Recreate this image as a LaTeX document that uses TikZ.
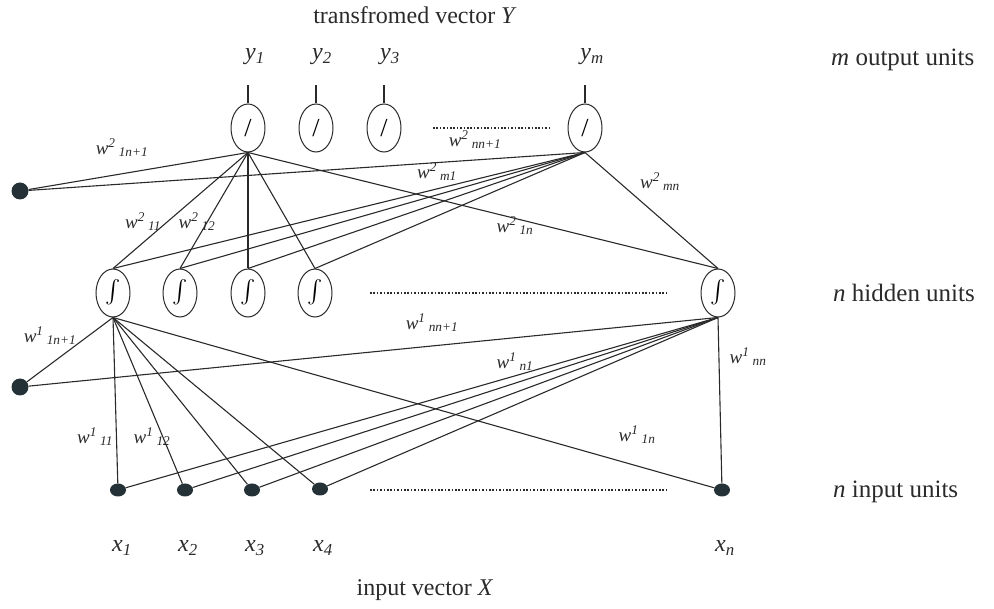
\documentclass[tikz,border=0pt]{standalone}
\usepackage{fontspec}
\setmainfont{Liberation Serif}
\usetikzlibrary{shapes.geometric}
\newcommand\wlab[2]{{\itshape w\textsuperscript{#1}\,\textsubscript{#2}}}
\newcommand\vlab[2]{{\itshape #1\textsubscript{#2}}}
\newcommand\sigm{\resizebox{!}{27pt}{$\int$}}
\definecolor{dotc}{HTML}{243238}
\definecolor{inkc}{HTML}{2A2A2A}
\begin{document}
\begin{tikzpicture}[x=1pt,y=-1pt,
  unit/.style={draw=inkc, ellipse, line width=1pt, minimum width=34pt, minimum height=48pt, inner sep=0pt, font=\fontsize{26}{28}\selectfont},
  indot/.style={ellipse, fill=dotc, minimum width=16pt, minimum height=13pt, inner sep=0pt},
  biasdot/.style={circle, fill=dotc, minimum size=17pt, inner sep=0pt},
  conn/.style={draw=inkc, line width=1.1pt},
  wl/.style={font=\fontsize{19}{21}\selectfont, inner sep=0pt, text=inkc},
  big/.style={font=\fontsize{24}{28}\selectfont, inner sep=0pt, text=inkc},
  dotline/.style={draw=inkc, line width=1.8pt, dash pattern=on 1.6pt off 1.8pt}]
\useasboundingbox (0,0) rectangle (994,609);

% output units
\node[unit] (o1) at (248,128) {/};
\node[unit] (o2) at (316,128) {/};
\node[unit] (o3) at (384,128) {/};
\node[unit] (om) at (585,128) {/};
% hidden units
\node[unit] (h1) at (113,293) {\sigm};
\node[unit] (h2) at (180,293) {\sigm};
\node[unit] (h3) at (248,293) {\sigm};
\node[unit] (h4) at (315,293) {\sigm};
\node[unit] (hn) at (718,293) {\sigm};
% input units
\node[indot] (x1) at (118,490) {};
\node[indot] (x2) at (185,490) {};
\node[indot] (x3) at (252,490) {};
\node[indot] (x4) at (320,489) {};
\node[indot] (xn) at (722,490) {};
% bias
\node[biasdot] (bo) at (20,191) {};
\node[biasdot] (bh) at (20,387) {};

% output ticks and labels
\foreach \n/\x/\s in {o1/255/1,o2/322/2,o3/390/3,om/592/m}{
  \coordinate (t\n) at (\n.north |- 0,85);
  \draw[conn] (\n.north) -- (t\n);
  \node[big] (l\n) at (\x,57) {\vlab{y}{\s}};
}
\node[big] (title) at (415,15) {transfromed vector \textit{Y}};

% dotted lines
\coordinate (d1a) at (433,128); \coordinate (d1b) at (550,128);
\coordinate (d2a) at (370,293); \coordinate (d2b) at (668,293);
\coordinate (d3a) at (370,490); \coordinate (d3b) at (668,490);
\draw[dotline] (d1a) -- (d1b);
\draw[dotline] (d2a) -- (d2b);
\draw[dotline] (d3a) -- (d3b);

% output layer connections
\foreach \h in {h1,h2,h3,h4,hn}{
  \draw[conn] (o1.south) -- (\h.north);
  \draw[conn] (om.south) -- (\h.north);
}
\draw[conn] (o1.south) -- (bo);
\draw[conn] (om.south) -- (bo);

% hidden layer connections
\foreach \x in {x1,x2,x3,x4,xn}{
  \draw[conn] (h1.south) -- (\x);
  \draw[conn] (hn.south) -- (\x);
}
\draw[conn] (h1.south) -- (bh);
\draw[conn] (hn.south) -- (bh);

% weight labels, output layer
\node[wl] (w2a) at (122,148) {\wlab{2}{1n+1}};
\node[wl] (w2b) at (475,140) {\wlab{2}{nn+1}};
\node[wl] (w2c) at (437,172) {\wlab{2}{m1}};
\node[wl] (w2d) at (143,222) {\wlab{2}{11}};
\node[wl] (w2e) at (197,222) {\wlab{2}{12}};
\node[wl] (w2f) at (515,226) {\wlab{2}{1n}};
\node[wl] (w2g) at (660,182) {\wlab{2}{mn}};
% weight labels, hidden layer
\node[wl] (w1a) at (50,336) {\wlab{1}{1n+1}};
\node[wl] (w1b) at (432,323) {\wlab{1}{nn+1}};
\node[wl] (w1c) at (515,362) {\wlab{1}{n1}};
\node[wl] (w1d) at (95,437) {\wlab{1}{11}};
\node[wl] (w1e) at (152,437) {\wlab{1}{12}};
\node[wl] (w1f) at (637,435) {\wlab{1}{1n}};
\node[wl] (w1g) at (748,357) {\wlab{1}{nn}};

% input labels
\foreach \n/\x/\s in {x1/122/1,x2/188/2,x3/255/3,x4/323/4,xn/725/n}{
  \node[big] (lab\n) at (\x,548) {\vlab{x}{\s}};
}
\node[big] (ivec) at (425,590) {input vector \textit{X}};

% layer names
\node[big, anchor=west, font=\fontsize{25}{28}\selectfont] (lo) at (831,60) {\textit{m} output units};
\node[big, anchor=west, font=\fontsize{25}{28}\selectfont] (lh) at (833,293) {\textit{n} hidden units};
\node[big, anchor=west, font=\fontsize{25}{28}\selectfont] (li) at (833,492) {\textit{n} input units};
\end{tikzpicture}
\end{document}
